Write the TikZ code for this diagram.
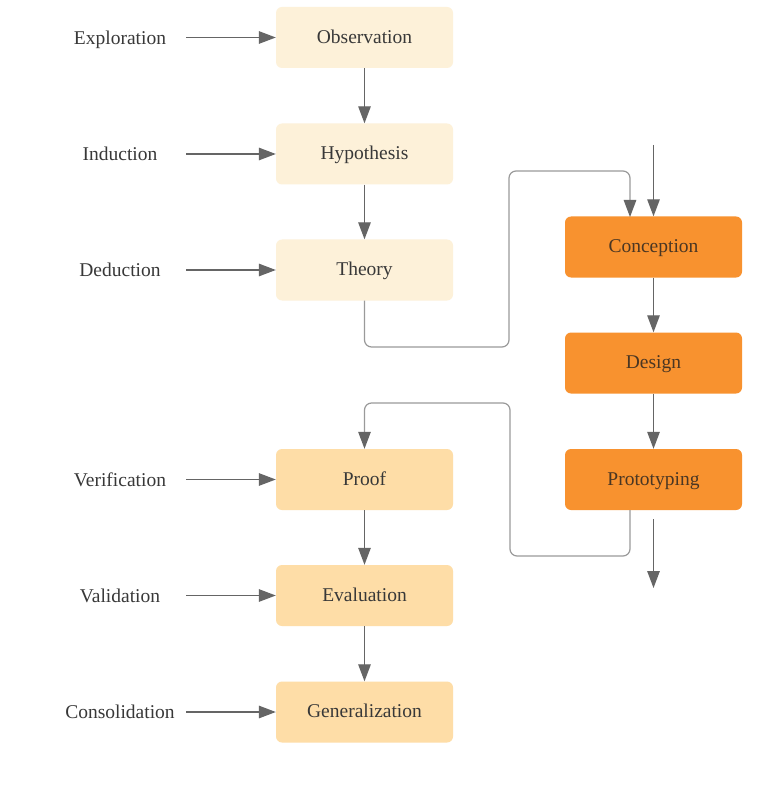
\documentclass[tikz,border=0pt]{standalone}
\usepackage{fontspec}
\setmainfont{Liberation Serif}
\usetikzlibrary{arrows.meta}

\definecolor{cream}{HTML}{FDF1D9}
\definecolor{peach}{HTML}{FEDDA7}
\definecolor{orangebox}{HTML}{F8922F}
\definecolor{txt}{HTML}{383838}
\definecolor{txtdark}{HTML}{4A3623}
\definecolor{arrowgrey}{HTML}{656565}
\definecolor{wiregrey}{HTML}{9A9A9A}

\tikzset{
  textsize/.style={font=\fontsize{19.5}{23}\selectfont},
  stagebox/.style={rectangle, rounded corners=6pt, minimum width=177pt,
    minimum height=61pt, inner sep=0pt, text=txt, textsize,
    text height=14pt, text depth=2.5pt},
  early/.style={stagebox, fill=cream},
  late/.style={stagebox, fill=peach},
  build/.style={stagebox, fill=orangebox, text=txtdark},
  method/.style={text=txt, inner sep=0pt, textsize,
    text height=15.5pt, text depth=2pt},
  flow/.style={draw=arrowgrey, line width=1.3pt,
    -{Triangle[length=17pt,width=12.5pt]}},
  wire/.style={draw=wiregrey, line width=1.2pt, rounded corners=7pt,
    -{Triangle[length=17pt,width=12.5pt,fill=arrowgrey,color=arrowgrey]}},
}

\begin{document}
\begin{tikzpicture}[x=1pt,y=-1pt]
  \useasboundingbox[fill=white] (0,0) rectangle (776,791);

  % research column
  \node[early] (obs)  at (364.5,37.5)  {Observation};
  \node[early] (hyp)  at (364.5,154)   {Hypothesis};
  \node[early] (theo) at (364.5,270)   {Theory};
  \node[late]  (proof) at (364.5,479.5) {Proof};
  \node[late]  (eval)  at (364.5,595.5) {Evaluation};
  \node[late]  (gen)   at (364.5,712)   {Generalization};

  % engineering column
  \node[build] (conc) at (653.5,247) {Conception};
  \node[build] (des)  at (653.5,363) {Design};
  \node[build] (proto) at (653.5,479.5) {Prototyping};

  % methods, each on the row of its stage
  \node[method] (m1) at (120,0 |- obs)   {Exploration};
  \node[method] (m2) at (120,0 |- hyp)   {Induction};
  \node[method] (m3) at (120,0 |- theo)  {Deduction};
  \node[method] (m4) at (120,0 |- proof) {Verification};
  \node[method] (m5) at (120,0 |- eval)  {Validation};
  \node[method] (m6) at (120,0 |- gen)   {Consolidation};

  \foreach \m/\b in {m1/obs, m2/hyp, m3/theo, m4/proof, m5/eval, m6/gen}
    \draw[flow] (186,0 |- \b) coordinate (s\m) -- (\b.west);

  % vertical chains
  \draw[flow] (obs) -- (hyp);
  \draw[flow] (hyp) -- (theo);
  \draw[flow] (proof) -- (eval);
  \draw[flow] (eval) -- (gen);
  \draw[flow] (conc) -- (des);
  \draw[flow] (des) -- (proto);

  % open ends of the engineering column
  \coordinate (inTop) at (653.5,145);
  \coordinate (outStart) at (653.5,519);
  \coordinate (outEnd) at (653.5,588);
  \draw[flow] (inTop) -- (conc.north);
  \draw[flow] (outStart) -- (outEnd);

  % cross links between the columns
  \coordinate (cIn) at (630,217);
  \coordinate (pOut) at (630,510);
  \draw[wire] (theo.south) -- (364.5,347) -- (509,347) -- (509,171)
    -- (630,171) -- (cIn);
  \draw[wire] (pOut) -- (630,556) -- (510,556) -- (510,403)
    -- (364.5,403) -- (proof.north);
\end{tikzpicture}
\end{document}
